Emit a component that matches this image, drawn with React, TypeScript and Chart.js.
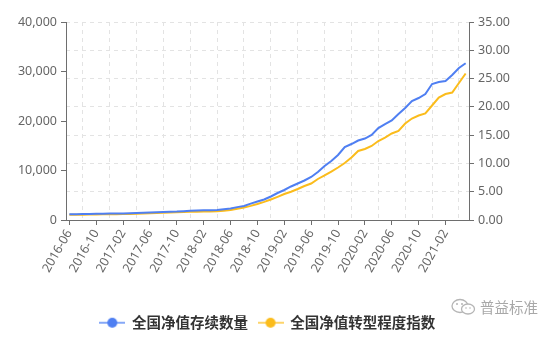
import React, { useEffect, useRef } from 'react';
import { Chart, registerables } from 'chart.js';

Chart.register(...registerables);

const months = [
  '2016-06', '2016-07', '2016-08', '2016-09', '2016-10', '2016-11', '2016-12',
  '2017-01', '2017-02', '2017-03', '2017-04', '2017-05', '2017-06', '2017-07', '2017-08', '2017-09', '2017-10', '2017-11', '2017-12',
  '2018-01', '2018-02', '2018-03', '2018-04', '2018-05', '2018-06', '2018-07', '2018-08', '2018-09', '2018-10', '2018-11', '2018-12',
  '2019-01', '2019-02', '2019-03', '2019-04', '2019-05', '2019-06', '2019-07', '2019-08', '2019-09', '2019-10', '2019-11', '2019-12',
  '2020-01', '2020-02', '2020-03', '2020-04', '2020-05', '2020-06', '2020-07', '2020-08', '2020-09', '2020-10', '2020-11', '2020-12',
  '2021-01', '2021-02', '2021-03', '2021-04', '2021-05',
];

const stockCount = [
  1150, 1180, 1200, 1220, 1250, 1270, 1290, 1300, 1320, 1380,
  1420, 1460, 1500, 1560, 1610, 1660, 1700, 1780, 1850, 1900,
  1950, 1980, 2000, 2150, 2330, 2600, 2830, 3300, 3740, 4140,
  4750, 5450, 6060, 6770, 7370, 7980, 8690, 9700, 10910, 11920,
  13130, 14750, 15350, 16060, 16460, 17170, 18580, 19390, 20100, 21410,
  22630, 24040, 24640, 25450, 27470, 27870, 28070, 29290, 30700, 31660,
];

const transIndex = [
  0.92, 0.93, 0.95, 0.96, 0.98, 1.0, 1.01, 1.02, 1.04, 1.08,
  1.12, 1.16, 1.2, 1.24, 1.28, 1.32, 1.36, 1.4, 1.44, 1.47,
  1.5, 1.52, 1.55, 1.65, 1.77, 2.0, 2.21, 2.5, 2.83, 3.2,
  3.62, 4.1, 4.6, 5.0, 5.48, 6.01, 6.45, 7.25, 7.87, 8.57,
  9.28, 10.08, 11.05, 12.2, 12.55, 13.08, 13.96, 14.58, 15.29, 15.73,
  17.06, 17.94, 18.47, 18.83, 20.24, 21.65, 22.27, 22.54, 24.22, 25.9,
];

const seriesNames = ['全国净值存续数量', '全国净值转型程度指数'];
const seriesColors = ['#4f7ff2', '#fbbc1c'];
const iconLineColors = ['#86a8f7', '#fdd46b'];

const leftMax = 40000;
const leftStep = 10000;
const rightMax = 35;
const rightStep = 5;

const TICK_FONT = { family: '"Noto Sans", "Open Sans", sans-serif', size: 12.5 };
const AXIS_COLOR = '#6e6e6e';
const GRID_COLOR = '#e3e3e3';

function makeIcon(lineColor: string, dotColor: string) {
  const c = document.createElement('canvas');
  c.width = 26;
  c.height = 12;
  const ctx = c.getContext('2d')!;
  ctx.strokeStyle = lineColor;
  ctx.lineWidth = 2;
  ctx.beginPath();
  ctx.moveTo(0, 6);
  ctx.lineTo(26, 6);
  ctx.stroke();
  ctx.fillStyle = dotColor;
  ctx.beginPath();
  ctx.arc(13, 6, 5, 0, Math.PI * 2);
  ctx.fill();
  return c;
}

export default function App() {
  const ref = useRef<HTMLCanvasElement>(null);

  useEffect(() => {
    if (!ref.current) return;
    const icons = seriesColors.map((c, i) => makeIcon(iconLineColors[i], c));
    const shiftLegend = {
      id: 'shiftLegend',
      afterLayout(chart: any) {
        if (chart.legend) {
          chart.legend.left -= 11;
          chart.legend.right -= 11;
        }
      },
    };
    const chart = new Chart(ref.current, {
      type: 'line',
      data: {
        labels: months,
        datasets: [
          {
            label: seriesNames[0],
            data: stockCount,
            borderColor: seriesColors[0],
            backgroundColor: seriesColors[0],
            borderWidth: 2,
            pointRadius: 0,
            tension: 0,
            yAxisID: 'y',
          },
          {
            label: seriesNames[1],
            data: transIndex,
            borderColor: seriesColors[1],
            backgroundColor: seriesColors[1],
            borderWidth: 2,
            pointRadius: 0,
            tension: 0,
            yAxisID: 'y1',
          },
        ],
      },
      plugins: [shiftLegend],
      options: {
        responsive: false,
        animation: false,
        layout: { padding: { top: 22, left: 0, right: 0, bottom: 0 } },
        plugins: {
          tooltip: { enabled: false },
          legend: {
            position: 'bottom',
            labels: {
              usePointStyle: true,
              pointStyleWidth: 25,
              padding: 10,
              color: '#333',
              font: { family: '"Noto Sans CJK SC", sans-serif', size: 14.5, weight: 'bold' },
              generateLabels: (ch: any) =>
                ch.data.datasets.map((ds: any, i: number) => ({
                  text: ds.label,
                  fillStyle: ds.borderColor,
                  strokeStyle: ds.borderColor,
                  lineWidth: 0,
                  pointStyle: icons[i],
                  hidden: false,
                  datasetIndex: i,
                  fontColor: '#333',
                })),
            },
          },
        },
        scales: {
          x: {
            type: 'category',
            offset: true,
            afterFit: (s: any) => { s.height = 85.5; },
            grid: {
              offset: false,
              drawOnChartArea: true,
              tickLength: 5,
              color: (ctx: any) => (ctx.index % 4 === 2 ? GRID_COLOR : 'rgba(0,0,0,0)'),
              tickColor: (ctx: any) => (ctx.index % 4 === 0 ? AXIS_COLOR : 'rgba(0,0,0,0)'),
            },
            border: { color: AXIS_COLOR, width: 1, dash: [4, 4] },
            ticks: {
              autoSkip: false,
              minRotation: 60,
              maxRotation: 60,
              padding: 2,
              color: '#666',
              font: TICK_FONT,
              callback: (_v: any, idx: number) => (idx % 4 === 0 ? months[idx] : ''),
            },
          },
          y: {
            position: 'left',
            min: 0,
            max: leftMax,
            afterFit: (s: any) => { s.width = 66; },
            grid: { drawOnChartArea: false, tickLength: 5, tickColor: AXIS_COLOR },
            border: { color: AXIS_COLOR, width: 1 },
            ticks: {
              stepSize: leftStep,
              padding: 4,
              color: '#666',
              font: TICK_FONT,
              callback: (v: any) => Number(v).toLocaleString('en-US'),
            },
          },
          y1: {
            position: 'right',
            min: 0,
            max: rightMax,
            afterFit: (s: any) => { s.width = 88; },
            grid: { drawOnChartArea: true, color: GRID_COLOR, tickLength: 5, tickColor: AXIS_COLOR },
            border: { color: AXIS_COLOR, width: 1, dash: [4, 4] },
            ticks: {
              stepSize: rightStep,
              padding: 4,
              color: '#666',
              font: TICK_FONT,
              callback: (v: any) => Number(v).toFixed(2),
            },
          },
        },
      },
    } as any);
    return () => chart.destroy();
  }, []);

  return (
    <div style={{ position: 'fixed', left: 0, top: 0, width: 557, height: 340, background: '#fff' }}>
      <canvas ref={ref} width={557} height={340} style={{ width: 557, height: 340, display: 'block' }} />
      <div
        style={{
          position: 'absolute',
          left: 450,
          top: 297,
          display: 'flex',
          alignItems: 'center',
          color: '#a8a8a8',
          fontFamily: '"Noto Sans CJK SC", sans-serif',
          fontSize: 14.5,
          lineHeight: '20px',
        }}
      >
        <svg width="27" height="20" viewBox="0 0 27 20" style={{ marginRight: 3 }}>
          <ellipse cx="10" cy="9" rx="8" ry="6.5" fill="none" stroke="#b5b5b5" strokeWidth="1.3" />
          <ellipse cx="18" cy="12" rx="6.5" ry="5" fill="#fff" stroke="#b5b5b5" strokeWidth="1.3" />
          <circle cx="7" cy="7" r="1" fill="#b5b5b5" />
          <circle cx="12" cy="7" r="1" fill="#b5b5b5" />
          <circle cx="16" cy="11" r="0.8" fill="#b5b5b5" />
          <circle cx="20" cy="11" r="0.8" fill="#b5b5b5" />
        </svg>
        <span>普益标准</span>
      </div>
    </div>
  );
}
